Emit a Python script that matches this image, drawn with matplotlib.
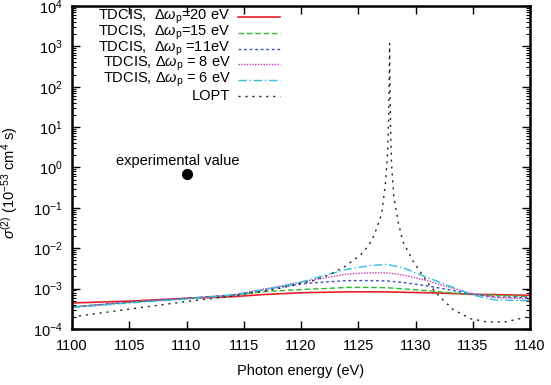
import matplotlib
matplotlib.use("Agg")
import matplotlib.pyplot as plt
from matplotlib.ticker import LogLocator, FixedLocator, NullFormatter

plt.rcParams['font.family'] = ['Liberation Sans', 'DejaVu Sans']
plt.rcParams['mathtext.fontset'] = 'custom'
plt.rcParams['mathtext.rm'] = 'Liberation Sans'
plt.rcParams['mathtext.it'] = 'Liberation Sans:italic'
plt.rcParams['font.size'] = 10.5

# TDCIS curves, shared energy grid (eV)
e_tdcis = [1100, 1105, 1110, 1114, 1117, 1120, 1122, 1124, 1126, 1127.5,
           1129, 1131, 1133, 1135, 1137, 1140]
tdcis_20 = [4.4e-4, 4.9e-4, 5.75e-4, 6.3e-4, 7.2e-4, 7.9e-4, 8.1e-4, 8.3e-4, 8.3e-4, 8.3e-4,
            8.1e-4, 7.9e-4, 7.6e-4, 7.2e-4, 7.1e-4, 6.8e-4]
tdcis_15 = [3.5e-4, 4.6e-4, 5.75e-4, 6.9e-4, 8.5e-4, 9.5e-4, 1.0e-3, 1.07e-3, 1.07e-3, 1.05e-3,
            9.8e-4, 8.9e-4, 7.9e-4, 7.2e-4, 6.8e-4, 6.3e-4]
tdcis_11 = [3.5e-4, 4.6e-4, 5.75e-4, 6.9e-4, 9.5e-4, 1.32e-3, 1.45e-3, 1.58e-3, 1.58e-3, 1.55e-3,
            1.41e-3, 1.17e-3, 9.3e-4, 7.2e-4, 6.2e-4, 6.0e-4]
tdcis_8 = [3.5e-4, 4.6e-4, 5.75e-4, 6.9e-4, 1.0e-3, 1.45e-3, 1.82e-3, 2.3e-3, 2.45e-3, 2.45e-3,
           2.15e-3, 1.58e-3, 1.07e-3, 7.4e-4, 6.0e-4, 5.5e-4]
tdcis_6 = [3.4e-4, 4.4e-4, 5.5e-4, 6.9e-4, 9.5e-4, 1.45e-3, 2.1e-3, 3.0e-3, 3.7e-3, 4.0e-3,
           3.2e-3, 1.9e-3, 1.15e-3, 6.9e-4, 5.2e-4, 5.0e-4]

# LOPT
e_lopt = [1100, 1105, 1110, 1114, 1118, 1121, 1122.5, 1123.8, 1125.2, 1125.7, 1126.2, 1126.5,
          1127.05, 1127.4, 1127.57, 1127.66, 1127.70, 1127.73, 1127.77, 1127.82, 1127.9, 1128.1,
          1128.5, 1128.9, 1129.8, 1131.1, 1132.1, 1133.3, 1134.8, 1136.2, 1137.8, 1139.7, 1140]
lopt = [2.0e-4, 3.1e-4, 4.8e-4, 6.5e-4, 1.0e-3, 1.55e-3, 2.2e-3, 3.5e-3, 6.8e-3, 1.0e-2, 1.6e-2, 2.6e-2,
        7.2e-2, 0.49, 2.7, 22, 145, 1180, 100, 8.5, 1.26, 0.19,
        4.2e-2, 1.45e-2, 4.7e-3, 1.35e-3, 6.3e-4, 3.0e-4, 1.8e-4, 1.5e-4, 1.5e-4, 1.95e-4, 2.0e-4]

exp_energy = [1110]
exp_value = [0.7]

labels = [r"TDCIS,  $\Delta\omega_{\rm p}$=20 eV",
          r"TDCIS,  $\Delta\omega_{\rm p}$=15 eV",
          r"TDCIS,  $\Delta\omega_{\rm p}$ =11eV",
          r"TDCIS, $\Delta\omega_{\rm p}$ = 8 eV",
          r"TDCIS, $\Delta\omega_{\rm p}$ = 6 eV",
          "LOPT"]

series = [tdcis_20, tdcis_15, tdcis_11, tdcis_8, tdcis_6]
colors = ['#e8202a', '#2eb82e', '#3a4fc0', '#c03cb8', '#2ec0dc', '#222222']
styles = ['-', (0, (4, 2)), (0, (2, 2)), (0, (1, 1)), (0, (6, 2, 1, 2)), (0, (1.5, 3.5))]
widths = [1.2, 1.0, 1.0, 1.0, 1.0, 1.0]

fig = plt.figure(figsize=(5.51, 3.85), dpi=100)
ax = fig.add_axes([0.1307, 0.1455, 0.8313, 0.839])

for ys, c, ls, lw in zip(series, colors[:5], styles[:5], widths[:5]):
    ax.plot(e_tdcis, ys, color=c, linestyle=ls, linewidth=lw)
ax.plot(e_lopt, lopt, color=colors[5], linestyle=styles[5], linewidth=1.0)

ax.plot(exp_energy, exp_value, 'o', color='black', markersize=7)
ax.text(1109.2, 1.45, "experimental value", ha='center', va='center', fontsize=10.5)

ax.set_yscale('log')
ax.set_xlim(1100, 1140)
ax.set_ylim(1e-4, 1e4)
ax.xaxis.set_major_locator(FixedLocator([1100, 1105, 1110, 1115, 1120, 1125, 1130, 1135, 1140]))
ax.yaxis.set_major_locator(LogLocator(base=10, numticks=20))
ax.yaxis.set_minor_locator(LogLocator(base=10, subs=(2, 3, 4, 5, 6, 7, 8, 9), numticks=20))
ax.yaxis.set_minor_formatter(NullFormatter())
ax.tick_params(which='both', direction='in', top=True, right=True)
ax.tick_params(which='major', length=6, width=1.0, pad=7)
ax.tick_params(which='minor', length=3, width=0.8)
for s in ax.spines.values():
    s.set_linewidth(1.8)

ax.set_xlabel("Photon energy (eV)", labelpad=8)
ax.set_ylabel(r"$\sigma^{(2)}$ (10$^{-53}$ cm$^4$ s)")
ax.yaxis.set_label_coords(-0.113, 0.452)

# legend, gnuplot style: text right aligned, sample to the right
for i, lab in enumerate(labels):
    y = 0.966 - i * 0.0489
    ax.text(0.346, y, lab, transform=ax.transAxes, ha='right', va='center', fontsize=10.5)
    ax.plot([0.363, 0.455], [y, y], transform=ax.transAxes, color=colors[i],
            linestyle=styles[i], linewidth=widths[i])

fig.savefig("out.png", dpi=100)
